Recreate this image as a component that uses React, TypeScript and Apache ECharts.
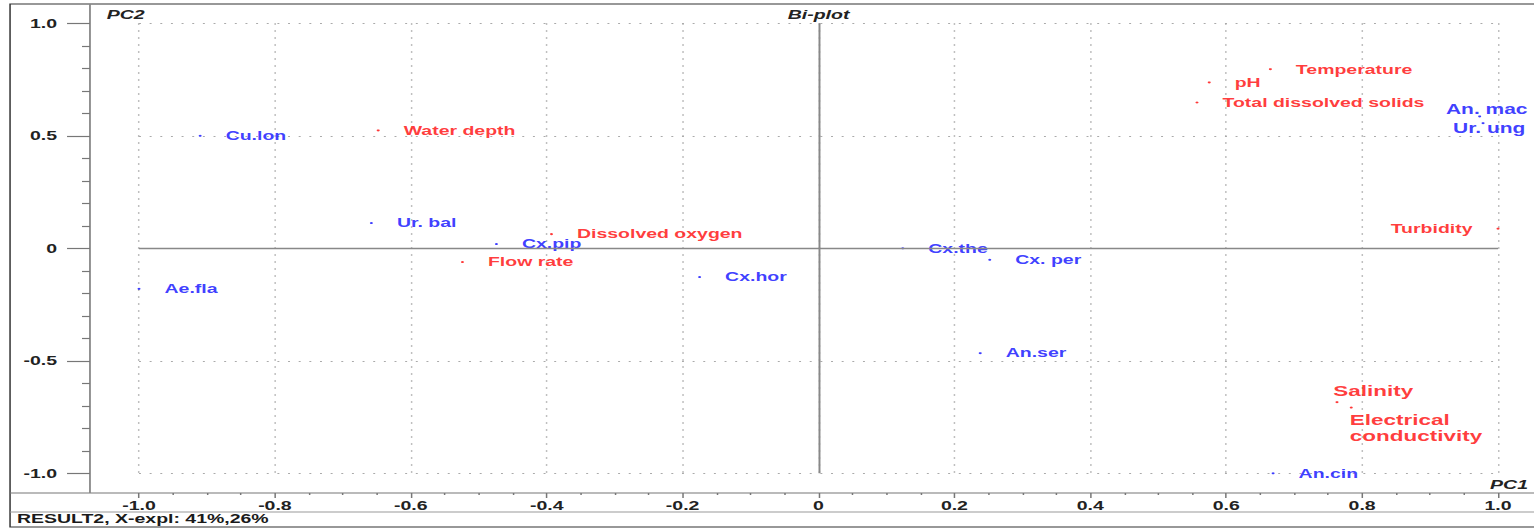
import React, { useEffect, useRef } from "react";
import * as echarts from "echarts";

// PCA bi-plot: species scores (blue) and environmental variables (red)
const speciesNames = ["Cu.lon", "Ae.fla", "Ur. bal", "Cx.pip", "Cx.hor", "Cx.the", "Cx. per", "An.ser", "An.cin", "An. mac", "Ur. ung"];
const speciesPC1 = [-0.91, -1.0, -0.658, -0.474, -0.175, 0.124, 0.252, 0.238, 0.669, 0.973, 0.978];
const speciesPC2 = [0.5, -0.18, 0.112, 0.019, -0.128, 0.0, -0.051, -0.466, -1.0, 0.586, 0.556];

const variableNames = ["Water depth", "Dissolved oxygen", "Flow rate", "Temperature", "pH", "Total dissolved solids", "Turbidity", "Salinity", "Electrical conductivity"];
const variablePC1 = [-0.648, -0.393, -0.524, 0.665, 0.575, 0.557, 1.0, 0.763, 0.784];
const variablePC2 = [0.524, 0.063, -0.061, 0.796, 0.737, 0.648, 0.087, -0.684, -0.708];

// axis ranges and tick steps
const pcMin = -1;
const pcMax = 1;
const pc1Step = 0.2;
const pc2Step = 0.5;

const plotTitle = "Bi-plot";
const xName = "PC1";
const yName = "PC2";
const statusText = "RESULT2, X-expl: 41%,26%";

// the drawing is laid out in a narrower box and stretched horizontally
const BASE_W = 1023;
const BASE_H = 529;
const STRETCH = 1534 / BASE_W;

const BLUE = "#0c0cff";
const RED = "#ff0808";
const FONT = "'Liberation Sans', Arial, sans-serif";

// per-label placement tweaks for crowded points
const labelTweaks: Record<string, any> = {
  "An. mac": { offset: [-39.5, -7], fontSize: 14 },
  "Ur. ung": { offset: [-37, 5], fontSize: 14 },
  Turbidity: { position: "left" },
  Salinity: { offset: [-19.5, -11], fontSize: 15 },
  "Electrical conductivity": { offset: [-18, 20], fontSize: 15, lineHeight: 16, formatter: "Electrical\nconductivity" },
};

function buildPoints(names: string[], xs: number[], ys: number[]) {
  return names.map((name, i) => {
    const item: any = { name, value: [xs[i], ys[i]] };
    if (labelTweaks[name]) item.label = labelTweaks[name];
    return item;
  });
}

const tickFmt = (v: number) => (Math.abs(v) < 1e-9 ? "0" : v.toFixed(1));

export default function App() {
  const ref = useRef<HTMLDivElement>(null);

  useEffect(() => {
    if (!ref.current) return;
    const chart = echarts.init(ref.current, undefined, { renderer: "svg" });

    const labelBase = {
      show: true,
      position: "right",
      distance: 16,
      formatter: "{b}",
      fontSize: 13,
      fontWeight: "bold",
      fontFamily: FONT,
    };

    const axisLabelStyle = {
      fontSize: 13,
      fontWeight: "bold",
      fontFamily: FONT,
      color: "#222",
      formatter: tickFmt,
    };

    chart.setOption({
      animation: false,
      backgroundColor: "#ffffff",
      grid: { left: 92.7, right: 24.0, top: 23.3, bottom: 55.7, containLabel: false },
      xAxis: {
        type: "value",
        min: pcMin,
        max: pcMax,
        interval: pc1Step,
        offset: 19.7,
        axisLine: { show: false, onZero: false },
        axisTick: { show: true, length: 5, lineStyle: { color: "#777", width: 1 } },
        minorTick: { show: true, splitNumber: 4, length: 2, lineStyle: { color: "#777", width: 1 } },
        axisLabel: { ...axisLabelStyle, margin: 6 },
        splitLine: { show: true, lineStyle: { color: "#aaa", width: 1, type: [1.5, 5.5] } },
      },
      yAxis: {
        type: "value",
        min: pcMin,
        max: pcMax,
        interval: pc2Step,
        offset: 32.7,
        axisLine: { show: false, onZero: false },
        axisTick: { show: true, length: 15.3, lineStyle: { color: "#777", width: 1.2 } },
        minorTick: { show: true, splitNumber: 5, length: 5.3, lineStyle: { color: "#777", width: 1.2 } },
        axisLabel: { ...axisLabelStyle, margin: 22 },
        splitLine: { show: true, lineStyle: { color: "#aaa", width: 1, type: [1.3, 5.8] } },
      },
      graphic: [
        {
          type: "rect",
          silent: true,
          shape: { x: 6.7, y: 4, width: 1100, height: 523 },
          style: { fill: "none", stroke: "#333", lineWidth: 1 },
        },
        { type: "line", silent: true, shape: { x1: 6.7, y1: 493, x2: BASE_W, y2: 493 }, style: { stroke: "#777", lineWidth: 1.2 } },
        { type: "line", silent: true, shape: { x1: 6.7, y1: 512, x2: BASE_W, y2: 512 }, style: { stroke: "#999", lineWidth: 1 } },
        { type: "line", silent: true, shape: { x1: 60, y1: 4, x2: 60, y2: 493 }, style: { stroke: "#888", lineWidth: 1.2 } },
        {
          type: "text",
          x: 71.2,
          y: 15,
          style: { text: yName, fontSize: 13, fontWeight: "bold", fontStyle: "italic", fontFamily: FONT, fill: "#222", align: "left", verticalAlign: "middle" },
        },
        {
          type: "text",
          x: 545.9,
          y: 15,
          style: { text: plotTitle, fontSize: 13, fontWeight: "bold", fontStyle: "italic", fontFamily: FONT, fill: "#222", align: "center", verticalAlign: "middle" },
        },
        {
          type: "text",
          x: 1019,
          y: 485,
          style: { text: xName, fontSize: 13, fontWeight: "bold", fontStyle: "italic", fontFamily: FONT, fill: "#222", align: "right", verticalAlign: "middle" },
        },
        {
          type: "text",
          x: 11.3,
          y: 519,
          style: { text: statusText, fontSize: 13, fontWeight: "bold", fontFamily: FONT, fill: "#1a1a1a", align: "left", verticalAlign: "middle" },
        },
      ],
      series: [
        {
          type: "scatter",
          data: [],
          silent: true,
          z: 1,
          markLine: {
            silent: true,
            symbol: "none",
            label: { show: false },
            lineStyle: { color: "#888", width: 1.3, type: "solid" },
            data: [{ xAxis: 0 }, { yAxis: 0 }],
          },
        },
        {
          type: "scatter",
          name: "Species",
          symbol: "circle",
          symbolSize: 2,
          itemStyle: { color: BLUE },
          label: { ...labelBase, color: BLUE },
          data: buildPoints(speciesNames, speciesPC1, speciesPC2),
          z: 3,
        },
        {
          type: "scatter",
          name: "Variables",
          symbol: "circle",
          symbolSize: 2,
          itemStyle: { color: RED },
          label: { ...labelBase, color: RED },
          data: buildPoints(variableNames, variablePC1, variablePC2),
          z: 3,
        },
      ],
    });

    return () => chart.dispose();
  }, []);

  return (
    <div
      ref={ref}
      style={{
        position: "fixed",
        left: 0,
        top: 0,
        width: BASE_W,
        height: BASE_H,
        transform: `scaleX(${STRETCH})`,
        transformOrigin: "0 0",
        background: "#fff",
      }}
    />
  );
}
